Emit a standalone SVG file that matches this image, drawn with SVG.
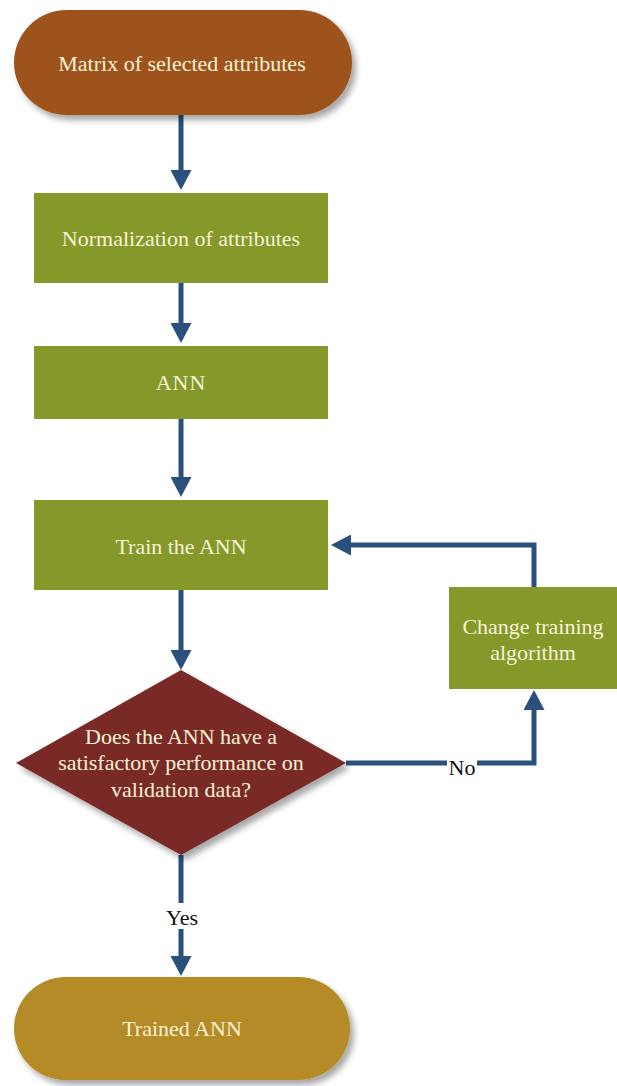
<svg xmlns="http://www.w3.org/2000/svg" width="617" height="1086" viewBox="0 0 617 1086">
  <style>
    .lbl { font-family: "Liberation Serif", "Times New Roman", serif; font-size: 22px; fill: #f8f2d4; text-anchor: middle; }
    .edge-lbl { font-family: "Liberation Serif", "Times New Roman", serif; font-size: 22px; fill: #111; text-anchor: middle; }
    .conn { fill: none; stroke: #2b507e; stroke-width: 5; }
    .box { fill: #85992b; }
  </style>
  <defs>
    <marker id="head" markerUnits="userSpaceOnUse" viewBox="0 0 20 21" markerWidth="20" markerHeight="21" refX="0" refY="10.5" orient="auto">
      <path d="M0,0 L20,10.5 L0,21 z" fill="#2b507e"/>
    </marker>
    <filter id="shadow" x="-10%" y="-10%" width="125%" height="130%">
      <feGaussianBlur in="SourceAlpha" stdDeviation="3"/>
      <feOffset dx="4" dy="5" result="b"/>
      <feComponentTransfer><feFuncA type="linear" slope="0.35"/></feComponentTransfer>
      <feMerge><feMergeNode/><feMergeNode in="SourceGraphic"/></feMerge>
    </filter>
  </defs>
  <rect width="617" height="1086" fill="#ffffff"/>

  <g id="connectors">
    <path class="conn" d="M181,115 V170" marker-end="url(#head)"/>
    <path class="conn" d="M181,283 V323" marker-end="url(#head)"/>
    <path class="conn" d="M181,419 V477" marker-end="url(#head)"/>
    <path class="conn" d="M181,590 V650" marker-end="url(#head)"/>
    <path class="conn" d="M181,855 V956" marker-end="url(#head)"/>
    <path class="conn" d="M346,763 H534 V710" marker-end="url(#head)"/>
    <path class="conn" d="M534,587 V545 H351" marker-end="url(#head)"/>
  </g>

  <g id="start">
    <rect x="14" y="10" width="338" height="105" rx="52.5" fill="#9e531f" filter="url(#shadow)"/>
    <text class="lbl" x="182" y="71">Matrix of selected attributes</text>
  </g>

  <g id="normalize">
    <rect class="box" x="34" y="193" width="294" height="90"/>
    <text class="lbl" x="181" y="246">Normalization of attributes</text>
  </g>

  <g id="ann">
    <rect class="box" x="34" y="346" width="294" height="73"/>
    <text class="lbl" x="181" y="390" letter-spacing="1">ANN</text>
  </g>

  <g id="train">
    <rect class="box" x="34" y="500" width="294" height="90"/>
    <text class="lbl" x="181" y="554">Train the ANN</text>
  </g>

  <g id="change">
    <rect class="box" x="449" y="587" width="168" height="102"/>
    <text class="lbl" x="533" y="634">Change training</text>
    <text class="lbl" x="533" y="660">algorithm</text>
  </g>

  <g id="decision">
    <polygon points="181,670 346,763 181,855 16,763" fill="#7a2b26" filter="url(#shadow)"/>
    <text class="lbl" x="181" y="744">Does the ANN have a</text>
    <text class="lbl" x="181" y="770">satisfactory performance on</text>
    <text class="lbl" x="181" y="797">validation data?</text>
  </g>

  <g id="end">
    <rect x="14" y="977" width="336" height="103" rx="51.5" fill="#b48b25" filter="url(#shadow)"/>
    <text class="lbl" x="182" y="1036">Trained ANN</text>
  </g>

  <g id="edge-labels">
    <rect x="162" y="903" width="40" height="26" fill="#ffffff"/>
    <text class="edge-lbl" x="182" y="925">Yes</text>
    <rect x="447" y="759" width="30" height="20" fill="#ffffff"/>
    <text class="edge-lbl" x="462" y="775">No</text>
  </g>
</svg>
